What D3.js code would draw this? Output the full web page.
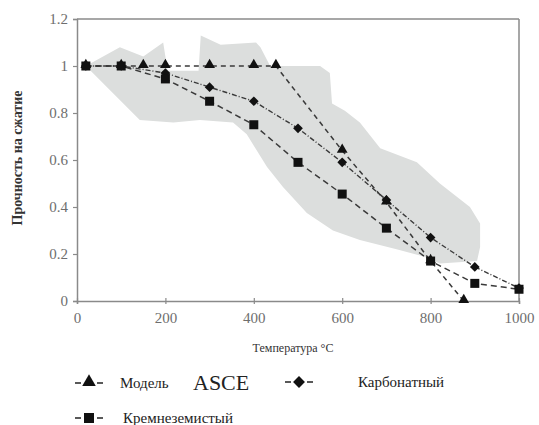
<!DOCTYPE html>
<html>
<head>
<meta charset="utf-8">
<script src="https://cdn.jsdelivr.net/npm/d3@7"></script>
<style>
  body { margin:0; background:#fff; }
</style>
</head>
<body>
<div id="vis"></div>
<script>
// data
var temps = [20,100,200,300,400,500,600,700,800,900,1000]
var asce = [[20,1],[100,1],[150,1],[200,1],[300,1],[400,1],[450,1],[600,0.64],[700,0.42],[800,0.17],[875,0]]
var carbonate = [1,1,0.97,0.91,0.85,0.735,0.59,0.43,0.27,0.145,0.055]
var siliceous = [1,1,0.945,0.85,0.75,0.59,0.455,0.31,0.17,0.075,0.05]
// grey scatter band (outline, clockwise)
var band = [[20,1],[97,1.08],[150,1.04],[195,1.1],[205,0.98],[275,0.98],[280,1.13],[325,1.09],
  [405,1.1],[415,1.08],[437,1.0],[550,1.0],[572,0.97],[577,0.84],[606,0.81],[640,0.76],
  [686,0.65],[769,0.59],[821,0.5],[889,0.4],[912,0.33],[912,0.23],[905,0.17],[821,0.16],
  [783,0.19],[723,0.22],[640,0.26],[579,0.3],[520,0.375],[466,0.485],[430,0.57],[384,0.71],
  [353,0.76],[278,0.77],[218,0.76],[142,0.77],[20,1]]
var xTicks = [0,200,400,600,800,1000]
var yTicks = [0,0.2,0.4,0.6,0.8,1,1.2]
var yTickLabels = ["0","0.2","0.4","0.6","0.8","1","1.2"]

var width = 539, height = 425
var svg = d3.select("#vis").append("svg").attr("width",width).attr("height",height)

var x = d3.scaleLinear().domain([0,1000]).range([77,519])
var y = d3.scaleLinear().domain([0,1.2]).range([301,19])

//band
svg.append("path").datum(band)
    .attr("d", d3.line().x(function(d){return x(d[0])}).y(function(d){return y(d[1])}).curve(d3.curveLinearClosed))
    .attr("fill","#dcdedd").attr("stroke","none")

//frame
var axisColor = "#8a8a8a"
svg.append("line").attr("x1",x(0)).attr("x2",x(1000)).attr("y1",y(1.2)).attr("y2",y(1.2))
    .attr("stroke",axisColor).attr("stroke-width",1.5)
svg.append("line").attr("x1",x(1000)).attr("x2",x(1000)).attr("y1",y(1.2)).attr("y2",y(0))
    .attr("stroke",axisColor).attr("stroke-width",1.5)

//axes
var xAxis = svg.append("g").attr("transform","translate(0,"+y(0)+")")
    .call(d3.axisBottom(x).tickValues(xTicks).tickSize(3).tickPadding(8).tickFormat(d3.format("d")))
var yAxis = svg.append("g").attr("transform","translate("+x(0)+",0)")
    .call(d3.axisLeft(y).tickValues(yTicks).tickSize(4).tickPadding(5)
        .tickFormat(function(d,i){ return yTickLabels[i] }))
;[xAxis,yAxis].forEach(function(g){
    g.select(".domain").attr("stroke",axisColor).attr("stroke-width",1.5)
    g.selectAll(".tick line").attr("stroke",axisColor).attr("stroke-width",1.2)
    g.selectAll(".tick text").attr("fill","#6e6e6e").attr("font-size",15)
})
xAxis.selectAll(".tick line").attr("y1",-3)

//series
var lineColor = "#3a3a3a"
var line = d3.line().x(function(d){return x(d[0])}).y(function(d){return y(d[1])})
var carbPts = temps.map(function(t,i){ return [t,carbonate[i]] })
var silPts = temps.map(function(t,i){ return [t,siliceous[i]] })

svg.append("path").datum(carbPts).attr("d",line).attr("fill","none")
    .attr("stroke",lineColor).attr("stroke-width",1.4).attr("stroke-dasharray","5,2,1,2")
svg.append("path").datum(silPts).attr("d",line).attr("fill","none")
    .attr("stroke",lineColor).attr("stroke-width",1.5).attr("stroke-dasharray","6,4")
svg.append("path").datum(asce).attr("d",line).attr("fill","none")
    .attr("stroke",lineColor).attr("stroke-width",1.5).attr("stroke-dasharray","5,4")

var mark = "#111"
svg.selectAll(".dia").data(carbPts).enter().append("path").attr("class","dia")
    .attr("d", d3.symbol().type(d3.symbolDiamond2).size(60))
    .attr("transform",function(d){ return "translate("+x(d[0])+","+y(d[1])+")" })
    .attr("fill",mark)
svg.selectAll(".sq").data(silPts).enter().append("rect").attr("class","sq")
    .attr("x",function(d){return x(d[0])-4.5}).attr("y",function(d){return y(d[1])-4.5})
    .attr("width",9).attr("height",9).attr("fill",mark)
svg.selectAll(".tri").data(asce).enter().append("path").attr("class","tri")
    .attr("d", d3.symbol().type(d3.symbolTriangle).size(50))
    .attr("transform",function(d){ return "translate("+x(d[0])+","+(y(d[1])-1)+")" })
    .attr("fill",mark)

//titles
svg.append("text").attr("transform","translate(22,158) rotate(-90)")
    .attr("text-anchor","middle").attr("font-size",14).attr("font-weight","bold")
    .attr("fill","#333").text("Прочность на сжатие")
svg.append("text").attr("x",293).attr("y",352).attr("text-anchor","middle")
    .attr("font-size",12).attr("fill","#333").text("Температура °C")

//legend
function legendMarker(cx,cy,kind){
    svg.append("line").attr("x1",cx-14).attr("x2",cx-8).attr("y1",cy).attr("y2",cy)
        .attr("stroke","#222").attr("stroke-width",1.5)
    svg.append("line").attr("x1",cx+8).attr("x2",cx+14).attr("y1",cy).attr("y2",cy)
        .attr("stroke","#222").attr("stroke-width",1.5)
    if(kind=="sq"){
        svg.append("rect").attr("x",cx-5).attr("y",cy-5).attr("width",10).attr("height",10).attr("fill",mark)
    } else {
        var t = kind=="tri" ? d3.symbolTriangle : d3.symbolDiamond2
        svg.append("path").attr("d",d3.symbol().type(t).size(kind=="tri"?80:90))
            .attr("transform","translate("+cx+","+(kind=="tri"?cy-1:cy)+")").attr("fill",mark)
    }
}
legendMarker(89,383,"tri")
legendMarker(299,382,"dia")
legendMarker(89,418,"sq")
svg.append("text").attr("x",120).attr("y",388).attr("font-size",15).attr("fill","#222").text("Модель")
svg.append("text").attr("x",193).attr("y",390).attr("font-size",22).attr("fill","#222").text("ASCE")
svg.append("text").attr("x",358).attr("y",387).attr("font-size",15).attr("fill","#222").text("Карбонатный")
svg.append("text").attr("x",123).attr("y",423).attr("font-size",15).attr("fill","#222").text("Кремнеземистый")

// every text in the serif face
svg.selectAll("text").style("font-family","'Liberation Serif'")
</script>
</body>
</html>
